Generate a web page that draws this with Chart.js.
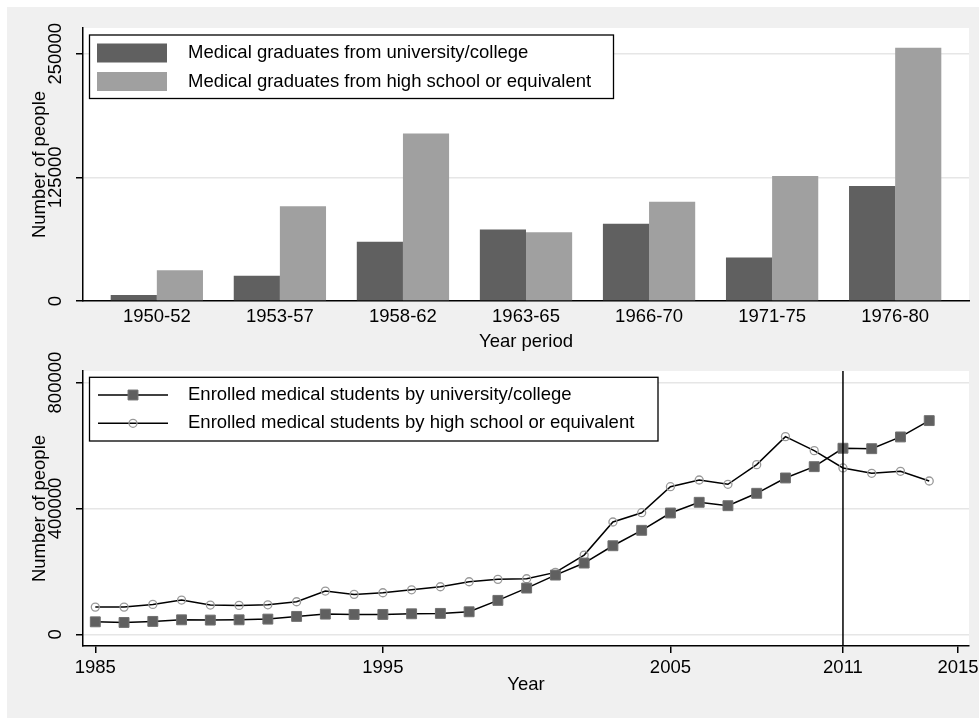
<!DOCTYPE html>
<html>
<head>
<meta charset="utf-8">
<script src="https://cdn.jsdelivr.net/npm/chart.js@4.4.0/dist/chart.umd.min.js"></script>
<style>
  html, body { margin: 0; padding: 0; background: #fff; }
  #page { position: relative; width: 979px; height: 718px; overflow: hidden; }
  #bg { position: absolute; left: 7px; top: 7px; right: 0; bottom: 0; background: #f0f0f0; }
  canvas { position: absolute; left: 0; }
  #topChart { top: 0; }
  #bottomChart { top: 330px; }
</style>
</head>
<body>
<div id="page">
  <div id="bg"></div>
  <canvas id="topChart" width="979" height="359"></canvas>
  <canvas id="bottomChart" width="979" height="388"></canvas>
</div>
<script>
// graduates by period
const periods = ['1950-52', '1953-57', '1958-62', '1963-65', '1966-70', '1971-75', '1976-80'];
const gradsUniv = [6000, 25600, 60000, 72400, 78200, 44100, 116200];
const gradsHigh = [31000, 95700, 169400, 69400, 100400, 126300, 256000];
const gradTicks = [0, 125000, 250000];

// enrolment by year
const years = [1985, 1986, 1987, 1988, 1989, 1990, 1991, 1992, 1993, 1994,
  1995, 1996, 1997, 1998, 1999, 2000, 2001, 2002, 2003, 2004,
  2005, 2006, 2007, 2008, 2009, 2010, 2011, 2012, 2013, 2014];
const enrolUniv = [40000, 38000, 41300, 46400, 45500, 46400, 48600, 57200, 64500, 63500,
  63500, 65500, 66800, 71900, 108100, 147200, 188500, 226700, 281700, 330700,
  385700, 419700, 408900, 448300, 497000, 532900, 591400, 590000, 627300, 679200];
const enrolHigh = [86800, 86800, 95400, 109100, 93200, 92200, 94100, 103700, 137700, 127200,
  132300, 141800, 151400, 167300, 174900, 176800, 197100, 252100, 357100, 386600,
  469300, 490600, 476900, 539300, 628300, 583800, 528800, 511900, 518200, 487400];
const enrolTicks = [0, 400000, 800000];
const yearTicks = [1985, 1995, 2005, 2011, 2015];
const markYear = 2011;

const DARK = '#606060';
const LIGHT = '#a0a0a0';
const FONT = "'Liberation Sans', Arial, sans-serif";

Chart.defaults.font.family = FONT;
Chart.defaults.font.size = 18.5;
Chart.defaults.color = '#000';

// white plot region
const plotBg = {
  id: 'plotBg',
  beforeDraw(chart) {
    const a = chart.chartArea, ctx = chart.ctx;
    ctx.save();
    ctx.fillStyle = '#fff';
    ctx.fillRect(a.left, a.top, a.right - a.left, a.bottom - a.top);
    ctx.restore();
  }
};

function drawMarker(ctx, ds, x, y) {
  ctx.save();
  ctx.lineWidth = ds.pointBorderWidth;
  ctx.strokeStyle = ds.pointBorderColor;
  ctx.fillStyle = ds.pointBackgroundColor;
  ctx.beginPath();
  if (ds.pointStyle === 'rect') {
    const s = Math.SQRT1_2 * ds.pointRadius;
    ctx.rect(x - s, y - s, 2 * s, 2 * s);
  } else {
    ctx.arc(x, y, ds.pointRadius, 0, Math.PI * 2);
  }
  ctx.fill();
  ctx.stroke();
  ctx.restore();
}

// Stata-like legend box inside the plot
const boxLegend = {
  id: 'boxLegend',
  afterDraw(chart, args, o) {
    const ctx = chart.ctx;
    ctx.save();
    ctx.fillStyle = '#fff';
    ctx.fillRect(o.x, o.y, o.w, o.h);
    ctx.strokeStyle = '#000';
    ctx.lineWidth = 1.3;
    ctx.strokeRect(o.x, o.y, o.w, o.h);
    chart.data.datasets.forEach((ds, i) => {
      const cy = o.y + o.row0 + i * o.rowGap;
      if (o.kind === 'bar') {
        ctx.fillStyle = ds.backgroundColor;
        ctx.fillRect(o.keyX, cy - 9.5, o.keyW, 19);
      } else {
        ctx.strokeStyle = ds.borderColor;
        ctx.lineWidth = ds.borderWidth;
        ctx.beginPath();
        ctx.moveTo(o.keyX, cy);
        ctx.lineTo(o.keyX + o.keyW, cy);
        ctx.stroke();
        drawMarker(ctx, ds, o.keyX + o.keyW / 2, cy);
      }
      ctx.fillStyle = '#000';
      ctx.font = '18.5px ' + FONT;
      ctx.textBaseline = 'middle';
      ctx.textAlign = 'left';
      ctx.fillText(ds.label, o.textX, cy);
    });
    ctx.restore();
  }
};

// vertical reference line
const refLine = {
  id: 'refLine',
  afterDatasetsDraw(chart, args, o) {
    if (o.value === undefined) return;
    const a = chart.chartArea, ctx = chart.ctx;
    const x = chart.scales.x.getPixelForValue(o.value);
    ctx.save();
    ctx.strokeStyle = '#000';
    ctx.lineWidth = 1.5;
    ctx.beginPath();
    ctx.moveTo(x, a.top);
    ctx.lineTo(x, a.bottom);
    ctx.stroke();
    ctx.restore();
  }
};

// keep the plot box where the reference has it
function fixX(h) {
  return s => { s.height = h; s.paddingLeft = 0; s.paddingRight = 0; };
}

function yAxis(min, max, tickVals, title) {
  return {
    type: 'linear',
    min: min,
    max: max,
    afterBuildTicks: s => { s.ticks = tickVals.map(v => ({ value: v })); },
    afterFit: s => { s.width = 83; s.paddingTop = 0; s.paddingBottom = 0; },
    ticks: {
      minRotation: 90,
      maxRotation: 90,
      crossAlign: 'center',
      padding: -11,
      callback: v => String(v)
    },
    grid: { color: '#e6e6e6', lineWidth: 1.5, tickColor: '#000', tickLength: 7 },
    border: { color: '#000', width: 1.5 },
    title: { display: true, text: title, padding: { top: 29.2, bottom: 0 } }
  };
}

// Bar chart
new Chart(document.getElementById('topChart'), {
  type: 'bar',
  data: {
    datasets: [{
      label: 'Medical graduates from university/college',
      data: gradsUniv.map((v, i) => ({ x: i, y: v })),
      backgroundColor: DARK,
      borderWidth: 0
    }, {
      label: 'Medical graduates from high school or equivalent',
      data: gradsHigh.map((v, i) => ({ x: i, y: v })),
      backgroundColor: LIGHT,
      borderWidth: 0
    }]
  },
  options: {
    responsive: false,
    animation: false,
    events: [],
    categoryPercentage: 0.75,
    barPercentage: 1.0,
    layout: { padding: { left: 0, right: 10, top: 28, bottom: 0 } },
    scales: {
      x: {
        type: 'linear',
        offset: false,
        min: -0.6,
        max: 6.6,
        afterBuildTicks: s => { s.ticks = periods.map((p, i) => ({ value: i })); },
        afterFit: fixX(58),
        ticks: { padding: -3, maxRotation: 0, autoSkip: false, callback: v => periods[v] },
        grid: { display: false },
        border: { color: '#000', width: 1.5 },
        title: { display: true, text: 'Year period', padding: { top: 0, bottom: 6.2 } }
      },
      y: yAxis(0, 276000, gradTicks, 'Number of people')
    },
    plugins: {
      legend: { display: false },
      tooltip: { enabled: false },
      boxLegend: { kind: 'bar', x: 89.5, y: 35, w: 524, h: 63.5, row0: 18, rowGap: 28.5, keyX: 97, keyW: 70, textX: 188 }
    }
  },
  plugins: [plotBg, boxLegend]
});

// Line chart
new Chart(document.getElementById('bottomChart'), {
  type: 'line',
  data: {
    datasets: [{
      label: 'Enrolled medical students by university/college',
      data: enrolUniv.map((v, i) => ({ x: years[i], y: v })),
      borderColor: '#000',
      borderWidth: 1.5,
      tension: 0,
      pointStyle: 'rect',
      pointRadius: 7,
      pointBackgroundColor: DARK,
      pointBorderColor: '#707070',
      pointBorderWidth: 1
    }, {
      label: 'Enrolled medical students by high school or equivalent',
      data: enrolHigh.map((v, i) => ({ x: years[i], y: v })),
      borderColor: '#000',
      borderWidth: 1.5,
      tension: 0,
      pointStyle: 'circle',
      pointRadius: 4,
      pointBackgroundColor: 'rgba(0,0,0,0)',
      pointBorderColor: '#999',
      pointBorderWidth: 1.3
    }]
  },
  options: {
    responsive: false,
    animation: false,
    events: [],
    layout: { padding: { left: 0, right: 10, top: 41, bottom: 0 } },
    scales: {
      x: {
        type: 'linear',
        min: 1984.572,
        max: 2015.383,
        afterBuildTicks: s => { s.ticks = yearTicks.map(v => ({ value: v })); },
        afterFit: fixX(72),
        ticks: { padding: 4.2, maxRotation: 0, autoSkip: false, callback: v => String(v) },
        grid: { drawOnChartArea: false, tickColor: '#000', tickLength: 7, lineWidth: 1.5 },
        border: { color: '#000', width: 1.5 },
        title: { display: true, text: 'Year', padding: { top: 0, bottom: 22.2 } }
      },
      y: yAxis(-36800, 836800, enrolTicks, 'Number of people')
    },
    plugins: {
      legend: { display: false },
      tooltip: { enabled: false },
      refLine: { value: markYear },
      boxLegend: { kind: 'line', x: 89.5, y: 47.3, w: 568.5, h: 63.7, row0: 17.7, rowGap: 28.3, keyX: 98, keyW: 70, textX: 188 }
    }
  },
  plugins: [plotBg, refLine, boxLegend]
});
</script>
</body>
</html>
